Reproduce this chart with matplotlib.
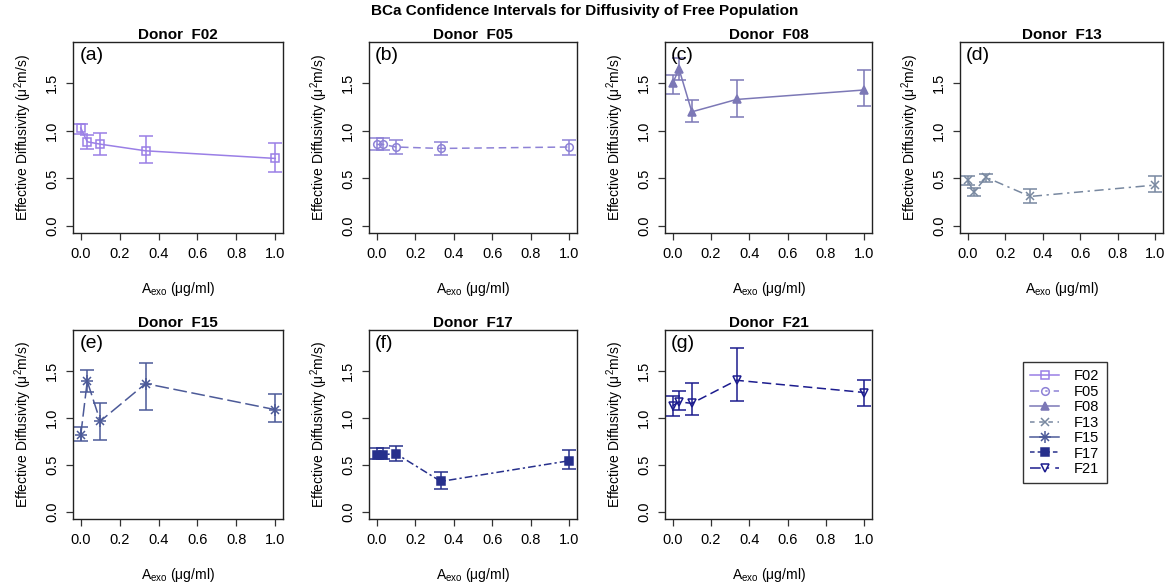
import matplotlib
matplotlib.use("Agg")
import matplotlib.pyplot as plt
from matplotlib.lines import Line2D

plt.rcParams['font.family'] = ['Liberation Sans', 'DejaVu Sans']
plt.rcParams['mathtext.fontset'] = 'custom'
plt.rcParams['mathtext.rm'] = 'Liberation Sans'

x_vals = [0.0, 0.0333, 0.1, 0.3333, 1.0]
donors = ["F02", "F05", "F08", "F13", "F15", "F17", "F21"]
panel_tags = ["(a)", "(b)", "(c)", "(d)", "(e)", "(f)", "(g)"]

est = {
    "F02": [1.03, 0.885, 0.86, 0.79, 0.71],
    "F05": [0.857, 0.857, 0.83, 0.815, 0.83],
    "F08": [1.50, 1.65, 1.20, 1.33, 1.43],
    "F13": [0.48, 0.36, 0.51, 0.31, 0.43],
    "F15": [0.82, 1.39, 0.965, 1.365, 1.088],
    "F17": [0.61, 0.61, 0.62, 0.325, 0.545],
    "F21": [1.13, 1.17, 1.155, 1.40, 1.27],
}
lower = {
    "F02": [0.97, 0.81, 0.75, 0.66, 0.57],
    "F05": [0.80, 0.80, 0.755, 0.745, 0.745],
    "F08": [1.39, 1.53, 1.09, 1.15, 1.26],
    "F13": [0.43, 0.315, 0.465, 0.245, 0.355],
    "F15": [0.755, 1.28, 0.76, 1.088, 0.96],
    "F17": [0.56, 0.565, 0.545, 0.245, 0.455],
    "F21": [1.025, 1.085, 1.035, 1.18, 1.13],
}
upper = {
    "F02": [1.077, 0.96, 0.98, 0.95, 0.875],
    "F05": [0.92, 0.92, 0.90, 0.885, 0.90],
    "F08": [1.59, 1.77, 1.32, 1.53, 1.64],
    "F13": [0.53, 0.40, 0.55, 0.39, 0.52],
    "F15": [0.90, 1.505, 1.155, 1.585, 1.25],
    "F17": [0.675, 0.675, 0.70, 0.42, 0.655],
    "F21": [1.235, 1.29, 1.375, 1.745, 1.40],
}

colors = {"F02": "#9A7FE6", "F05": "#8E82D6", "F08": "#7C78B6", "F13": "#7888A0",
          "F15": "#4C5A98", "F17": "#27308C", "F21": "#1C1C8E"}
markers = {"F02": "s", "F05": "o", "F08": "^", "F13": "x", "F15": "+",
           "F17": "s", "F21": "v"}
msizes = {"F02": 5.5, "F05": 5.5, "F08": 5.5, "F13": 6, "F15": 8, "F17": 6, "F21": 6}
filled = {"F02": False, "F05": False, "F08": True, "F13": True, "F15": True,
          "F17": True, "F21": False}
lstyles = {"F02": "-", "F05": (0, (5, 3)), "F08": "-", "F13": (0, (6, 3, 1.5, 3)),
           "F15": (0, (9, 3)), "F17": (0, (5, 2, 1.5, 2)), "F21": (0, (6, 3))}
leg_lstyles = {"F02": "-", "F05": (0, (6, 4, 1.5, 4)), "F08": "-", "F13": (0, (3, 3)),
               "F15": "-", "F17": (0, (3, 2)), "F21": (0, (7, 4, 1.5, 4))}

W, H = 1169, 588
fig = plt.figure(figsize=(W / 100, H / 100), dpi=100)

lefts = [73, 369, 665, 960]
widths = [210, 208, 207, 203]
rows = [(42, 233), (330, 519)]


def mk(ax, x, y, d, col, ls='none'):
    ax.plot(x, y, color=col, linestyle=ls, linewidth=1.1,
            marker=markers[d], markersize=msizes[d],
            markerfacecolor=col if filled[d] else 'none', markeredgecolor=col,
            markeredgewidth=1.1, zorder=3)
    if d == "F15":
        ax.plot(x, y, linestyle='none', marker='x', markersize=5.7,
                markeredgecolor=col, markeredgewidth=1.1, zorder=3)


for i, d in enumerate(donors):
    r, c = divmod(i, 4)
    top, bot = rows[r]
    l = lefts[c]
    pw = widths[c]
    ax = fig.add_axes([l / W, 1 - bot / H, pw / W, (bot - top) / H])
    col = colors[d]
    yerr = [[e - lo for e, lo in zip(est[d], lower[d])],
            [hi - e for e, hi in zip(est[d], upper[d])]]
    ax.errorbar(x_vals, est[d], yerr=yerr, fmt='none', ecolor=col, elinewidth=1.1,
                capsize=5, capthick=1.1, zorder=2)
    mk(ax, x_vals, est[d], d, col, ls=lstyles[d])
    ax.set_xlim(-0.04, 1.04)
    ax.set_ylim(-0.0744, 1.9344)
    ax.set_xticks([0, 0.2, 0.4, 0.6, 0.8, 1.0])
    ax.set_xticklabels(["0.0", "0.2", "0.4", "0.6", "0.8", "1.0"])
    ax.set_yticks([0, 0.5, 1.0, 1.5])
    ax.set_yticklabels(["0.0", "0.5", "1.0", "1.5"], rotation=90, va='center')
    ax.tick_params(labelsize=10.5, length=5, width=0.9, color='#333333', pad=5)
    for s in ax.spines.values():
        s.set_linewidth(1.0)
        s.set_color('#222222')
    ax.set_title("Donor  " + d, fontsize=11, fontweight='bold', pad=2)
    ax.text(0.03, 0.975, panel_tags[i], transform=ax.transAxes, fontsize=14,
            va='top', ha='left')
    ax.set_xlabel("A$_{\\mathrm{exo}}$ (\u03bcg/ml)", fontsize=10, labelpad=14)
    ax.set_ylabel("Effective Diffusivity (\u03bc$^{\\mathrm{2}}$m/s)", fontsize=10, labelpad=8)

fig.text(585 / W, 1 - 11 / H, "BCa Confidence Intervals for Diffusivity of Free Population",
         ha='center', va='center', fontsize=11, fontweight='bold')

handles = []
for d in donors:
    col = colors[d]
    h = Line2D([0], [0], color=col, linestyle=leg_lstyles[d], linewidth=1.1,
               marker=markers[d], markersize=msizes[d],
               markerfacecolor=col if filled[d] else 'none',
               markeredgecolor=col, markeredgewidth=1.1)
    if d == "F15":
        h2 = Line2D([0], [0], linestyle='none', marker='x', markersize=5.7,
                    markeredgecolor=col, markeredgewidth=1.1)
        h = (h, h2)
    handles.append(h)
leg = fig.legend(handles, donors, loc='upper left',
                 bbox_to_anchor=(1023 / W, 1 - 362 / H), frameon=True,
                 fontsize=10.5, handlelength=2.0, handletextpad=1.0,
                 labelspacing=0.1, borderpad=0.5, borderaxespad=0, fancybox=False)
leg.get_frame().set_edgecolor('black')
leg.get_frame().set_linewidth(1.0)

fig.savefig("out.png", dpi=100)
